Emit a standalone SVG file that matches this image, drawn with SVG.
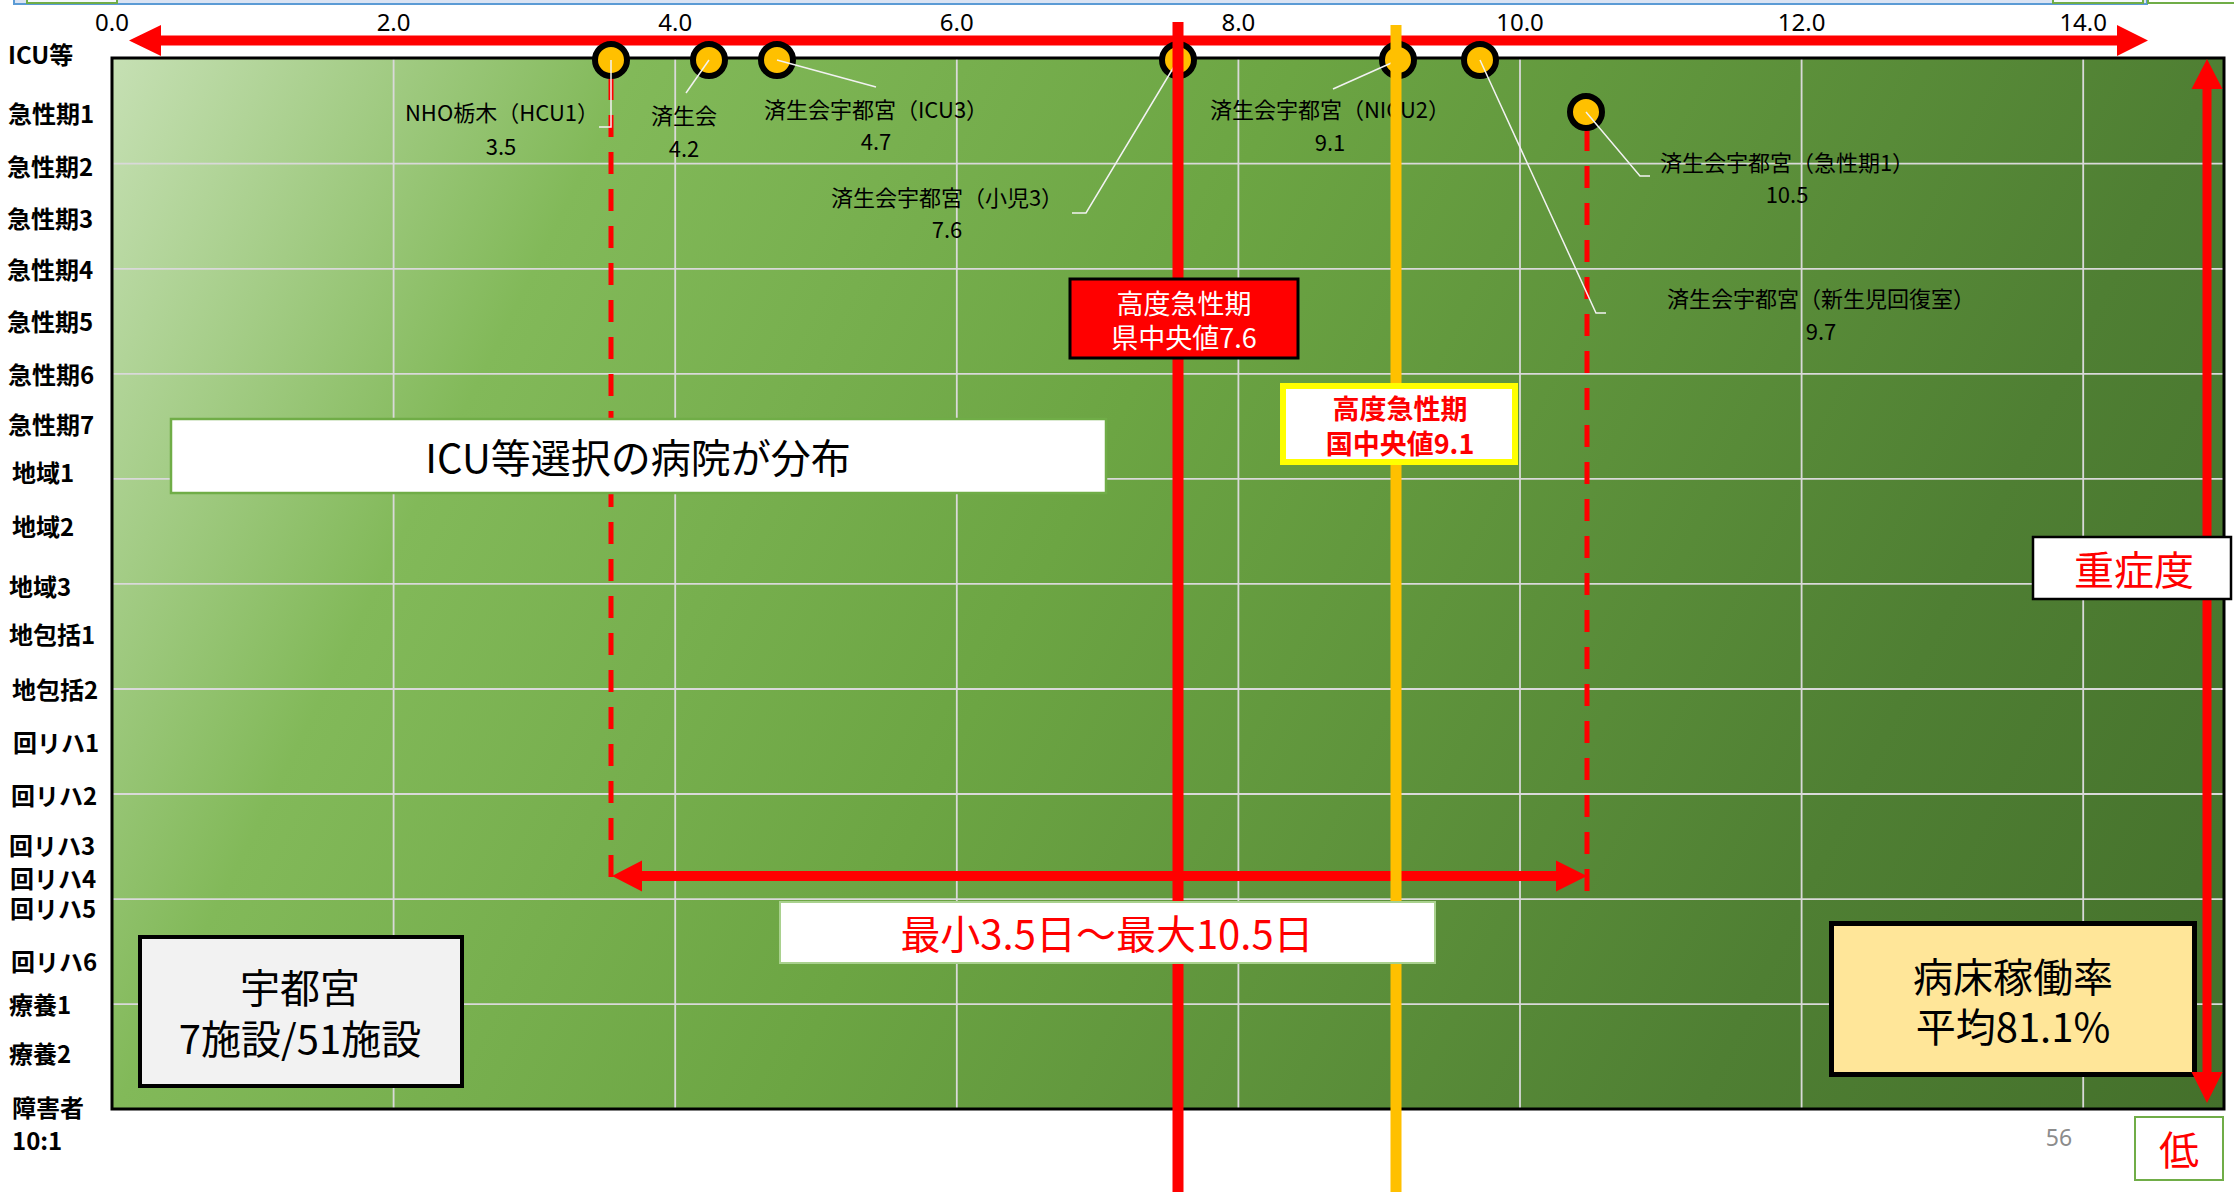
<svg xmlns="http://www.w3.org/2000/svg" width="2234" height="1192" viewBox="0 0 2234 1192">
<style>
.ylab{font-family:'Noto Sans CJK JP','Noto Sans',sans-serif;font-size:24px;font-weight:700;fill:#000;dominant-baseline:central}
.tick{font-family:'Noto Sans','Noto Sans CJK JP',sans-serif;font-size:24px;fill:#000;text-anchor:middle}
.hl{font-family:'Noto Sans CJK JP','Noto Sans',sans-serif;font-size:22px;fill:#000;text-anchor:middle;dominant-baseline:central}
.big{font-family:'Noto Sans CJK JP','Noto Sans',sans-serif;font-size:40px;text-anchor:middle;dominant-baseline:central}
.mid{font-family:'Noto Sans CJK JP','Noto Sans',sans-serif;font-size:27px;text-anchor:middle;dominant-baseline:central}
.grid{stroke:#d9d9d9;stroke-width:1.8}
.leader{stroke:#f2f2f2;stroke-width:1.5;fill:none}
.dash{stroke:#ff0000;stroke-width:5;stroke-dasharray:22 15;fill:none}
.pt{fill:#ffc000;stroke:#000;stroke-width:6}
.arrow{fill:#ff0000}
</style>
<defs>
<linearGradient id="bg" gradientUnits="userSpaceOnUse" x1="112" y1="58" x2="2224" y2="1109">
<stop offset="0" stop-color="#c6e0b4"/>
<stop offset="0.2" stop-color="#82b959"/>
<stop offset="0.45" stop-color="#6ca543"/>
<stop offset="0.8" stop-color="#4f7f33"/>
<stop offset="1" stop-color="#44702b"/>
</linearGradient>
</defs>
<rect width="2234" height="1192" fill="#ffffff"/>
<g id="slide-frame">
<rect x="14" y="-20" width="2133" height="24" fill="#dae3f3" stroke="#5b9bd5" stroke-width="2"/>
<rect x="27" y="-20" width="90" height="23" fill="#f4f8fc" stroke="#70ad47" stroke-width="2"/>
<rect x="2053" y="-20" width="90" height="23" fill="#f4f8fc" stroke="#70ad47" stroke-width="2"/>
<rect x="2148" y="-20" width="100" height="23" fill="#ffffff" stroke="#70ad47" stroke-width="2"/>
</g>
<g id="plot">
<rect x="112" y="58" width="2112" height="1051" fill="url(#bg)"/>
<g id="grid">
<line class="grid" x1="393.6" y1="58" x2="393.6" y2="1109"/>
<line class="grid" x1="675.2" y1="58" x2="675.2" y2="1109"/>
<line class="grid" x1="956.8" y1="58" x2="956.8" y2="1109"/>
<line class="grid" x1="1238.4" y1="58" x2="1238.4" y2="1109"/>
<line class="grid" x1="1520" y1="58" x2="1520" y2="1109"/>
<line class="grid" x1="1801.6" y1="58" x2="1801.6" y2="1109"/>
<line class="grid" x1="2083.2" y1="58" x2="2083.2" y2="1109"/>
<line class="grid" x1="112" y1="163.7" x2="2224" y2="163.7"/>
<line class="grid" x1="112" y1="268.8" x2="2224" y2="268.8"/>
<line class="grid" x1="112" y1="373.8" x2="2224" y2="373.8"/>
<line class="grid" x1="112" y1="478.9" x2="2224" y2="478.9"/>
<line class="grid" x1="112" y1="583.9" x2="2224" y2="583.9"/>
<line class="grid" x1="112" y1="689" x2="2224" y2="689"/>
<line class="grid" x1="112" y1="794" x2="2224" y2="794"/>
<line class="grid" x1="112" y1="899.1" x2="2224" y2="899.1"/>
<line class="grid" x1="112" y1="1004.1" x2="2224" y2="1004.1"/>
</g>
<rect x="112" y="58" width="2112" height="1051" fill="none" stroke="#000" stroke-width="3"/>
</g>
<g id="x-axis">
<text class="tick" x="112" y="31">0.0</text>
<text class="tick" x="393.6" y="31">2.0</text>
<text class="tick" x="675.2" y="31">4.0</text>
<text class="tick" x="956.8" y="31">6.0</text>
<text class="tick" x="1238.4" y="31">8.0</text>
<text class="tick" x="1520" y="31">10.0</text>
<text class="tick" x="1801.6" y="31">12.0</text>
<text class="tick" x="2083.2" y="31">14.0</text>
<polygon class="arrow" points="129,40.5 161,25 161,35.5 2117,35.5 2117,25 2148,40.5 2117,56 2117,45.5 161,45.5 161,56"/>
</g>
<g id="y-axis">
<text class="ylab" x="8" y="53">ICU等</text>
<text class="ylab" x="8" y="112">急性期1</text>
<text class="ylab" x="7" y="165">急性期2</text>
<text class="ylab" x="7" y="217">急性期3</text>
<text class="ylab" x="7" y="268">急性期4</text>
<text class="ylab" x="7" y="320">急性期5</text>
<text class="ylab" x="8" y="373">急性期6</text>
<text class="ylab" x="8" y="423">急性期7</text>
<text class="ylab" x="12" y="471">地域1</text>
<text class="ylab" x="12" y="525">地域2</text>
<text class="ylab" x="9" y="585">地域3</text>
<text class="ylab" x="9" y="633">地包括1</text>
<text class="ylab" x="12" y="688">地包括2</text>
<text class="ylab" x="13" y="741">回リハ1</text>
<text class="ylab" x="11" y="794">回リハ2</text>
<text class="ylab" x="9" y="844">回リハ3</text>
<text class="ylab" x="10" y="877">回リハ4</text>
<text class="ylab" x="10" y="907">回リハ5</text>
<text class="ylab" x="11" y="960">回リハ6</text>
<text class="ylab" x="9" y="1003">療養1</text>
<text class="ylab" x="9" y="1052">療養2</text>
<text class="ylab" x="12" y="1106">障害者</text>
<text class="ylab" x="12" y="1139">10:1</text>
</g>
<g id="connectors">
<polyline class="dash" points="611,78 611,892"/>
<polyline class="dash" points="1587,129 1587,892"/>
<polygon class="arrow" points="612,876 642,860.5 642,871 1556,871 1556,860.5 1587,876 1556,891.5 1556,881 642,881 642,891.5"/>
</g>
<g id="points">
<g id="p-nho"><circle class="pt" cx="611" cy="60" r="16"/></g>
<g id="p-saiseikai"><circle class="pt" cx="709" cy="60" r="16"/></g>
<g id="p-icu3"><circle class="pt" cx="777" cy="60" r="16"/></g>
<g id="p-shoni3"><circle class="pt" cx="1178" cy="60" r="16"/></g>
<g id="p-nicu2"><circle class="pt" cx="1398" cy="60" r="16"/></g>
<g id="p-shinseiji"><circle class="pt" cx="1480" cy="60" r="16"/></g>
<g id="p-kyusei1"><circle class="pt" cx="1586" cy="112" r="16"/></g>
</g>
<g id="leaders">
<polyline class="leader" points="611,60 611,127 599,127"/>
<polyline class="leader" points="709,60 686,93"/>
<polyline class="leader" points="777,60 876,87"/>
<polyline class="leader" points="1178,60 1086,213 1072,213"/>
<polyline class="leader" points="1398,60 1333,89"/>
<polyline class="leader" points="1480,60 1596,313 1606,313"/>
<polyline class="leader" points="1586,112 1640,176 1650,176"/>
</g>
<g id="labels">
<g id="l-nho"><text class="hl" x="502" y="111">NHO栃木（HCU1）</text><text class="hl" x="501" y="145">3.5</text></g>
<g id="l-saiseikai"><text class="hl" x="684" y="114">済生会</text><text class="hl" x="684" y="147">4.2</text></g>
<g id="l-icu3"><text class="hl" x="876" y="108">済生会宇都宮（ICU3）</text><text class="hl" x="876" y="140">4.7</text></g>
<g id="l-shoni3"><text class="hl" x="947" y="196">済生会宇都宮（小児3）</text><text class="hl" x="947" y="228">7.6</text></g>
<g id="l-nicu2"><text class="hl" x="1330" y="108">済生会宇都宮（NICU2）</text><text class="hl" x="1330" y="141">9.1</text></g>
<g id="l-kyusei1"><text class="hl" x="1787" y="161">済生会宇都宮（急性期1）</text><text class="hl" x="1787" y="193">10.5</text></g>
<g id="l-shinseiji"><text class="hl" x="1821" y="297">済生会宇都宮（新生児回復室）</text><text class="hl" x="1821" y="330">9.7</text></g>
</g>
<g id="median-lines">
<rect x="1172.5" y="22" width="11" height="1170" fill="#ff0000"/>
<rect x="1390.5" y="25" width="11" height="1167" fill="#ffc000"/>
</g>
<g id="icu-box">
<rect x="171" y="419" width="935" height="74" fill="#fff" stroke="#70ad47" stroke-width="2.5"/>
<text class="big" x="638" y="456" fill="#000">ICU等選択の病院が分布</text>
</g>
<g id="pref-median">
<rect x="1070" y="279" width="228" height="79" fill="#ff0000" stroke="#000" stroke-width="3"/>
<text class="mid" x="1184" y="302" fill="#fff">高度急性期</text>
<text class="mid" x="1184" y="336" fill="#fff">県中央値7.6</text>
</g>
<g id="national-median">
<rect x="1283" y="386" width="232" height="76" fill="#fff" stroke="#ffff00" stroke-width="6"/>
<text class="mid" x="1400" y="407" fill="#ff0000" font-weight="700" font-size="28">高度急性期</text>
<text class="mid" x="1400" y="442" fill="#ff0000" font-weight="700" font-size="28">国中央値9.1</text>
</g>
<g id="range-box">
<rect x="780" y="902" width="655" height="61" fill="#fff" stroke="#a9d18e" stroke-width="2"/>
<text class="big" x="1107" y="932" fill="#ff0000">最小3.5日～最大10.5日</text>
</g>
<g id="utsunomiya-box">
<rect x="140" y="937" width="322" height="149" fill="#f2f2f2" stroke="#000" stroke-width="4"/>
<text class="big" x="300" y="986" fill="#000">宇都宮</text>
<text class="big" x="300" y="1037" fill="#000">7施設/51施設</text>
</g>
<g id="occupancy-box">
<rect x="1831.5" y="923.5" width="363" height="151" fill="#ffe699" stroke="#000" stroke-width="5"/>
<text class="big" x="2013" y="975" fill="#000">病床稼働率</text>
<text class="big" x="2013" y="1025" fill="#000">平均81.1%</text>
</g>
<g id="severity-arrow">
<polygon class="arrow" points="2207,59 2222.5,89 2211.5,89 2211.5,1072 2222.5,1072 2207,1103 2191.5,1072 2202.5,1072 2202.5,89 2191.5,89"/>
</g>
<g id="severity-box">
<rect x="2033" y="537" width="198" height="62" fill="#fff" stroke="#000" stroke-width="2.5"/>
<text class="big" x="2134" y="568" fill="#ff0000">重症度</text>
</g>
<g id="low-box">
<rect x="2135" y="1117" width="88" height="63" fill="#fff" stroke="#70ad47" stroke-width="2"/>
<text class="big" x="2179" y="1148" fill="#ff0000">低</text>
</g>
<text x="2059" y="1146" font-family="'Noto Sans','Liberation Sans',sans-serif" font-size="23" fill="#8c8c8c" text-anchor="middle">56</text>
</svg>
